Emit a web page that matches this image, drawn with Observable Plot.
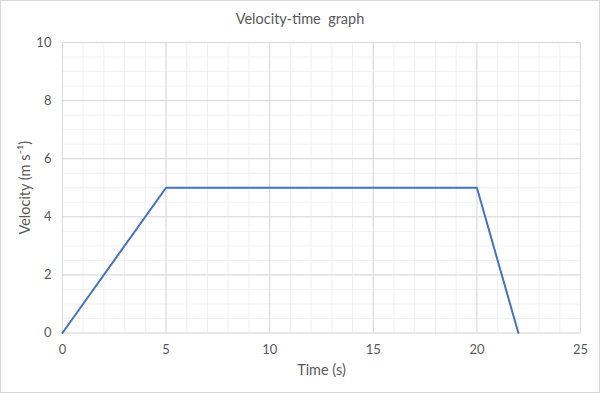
<!DOCTYPE html>
<html>
<head>
<meta charset="utf-8">
<script src="https://cdn.jsdelivr.net/npm/d3@7"></script>
<script src="https://cdn.jsdelivr.net/npm/@observablehq/plot@0.6"></script>
<style>
  html, body { margin: 0; padding: 0; background: #fff; }
  #wrap { position: relative; width: 600px; height: 393px; box-sizing: border-box; border: 1px solid #d9d9d9; overflow: hidden; font-family: Lato, "Open Sans", sans-serif; }
  #title { position: absolute; left: 0; top: 0; width: 100%; height: 30px; line-height: 36px; text-align: center; font-size: 14.5px; color: #595959; }
  #chart { position: absolute; left: -1px; top: 29px; }
</style>
</head>
<body>
<div id="wrap">
  <div id="title">Velocity-time&nbsp; graph</div>
  <div id="chart"></div>
</div>
<script>
const time = [0, 5, 20, 22];
const velocity = [0, 5, 5, 0];
const xTicks = [0, 5, 10, 15, 20, 25];
const yTicks = [0, 2, 4, 6, 8, 10];
const xMinor = d3.range(0, 26, 1);
const yMinor = d3.range(0, 10.001, 0.5);
const xLabel = "Time (s)";
const yLabel = "Velocity (m s\u207B\u00B9)";

const data = time.map((t, i) => ({t, v: velocity[i]}));

const chart = Plot.plot({
  width: 600,
  height: 364,
  marginTop: 12,
  marginBottom: 61,
  marginLeft: 62,
  marginRight: 19,
  style: {fontFamily: "Lato, 'Open Sans', sans-serif", fontSize: "12.5px", color: "#595959", background: "transparent"},
  x: {domain: [0, 25]},
  y: {domain: [0, 10]},
  marks: [
    Plot.gridX(xMinor, {stroke: "#f0f0f0", strokeOpacity: 1}),
    Plot.gridY(yMinor, {stroke: "#f0f0f0", strokeOpacity: 1}),
    Plot.gridX(xTicks, {stroke: "#d9d9d9", strokeOpacity: 1}),
    Plot.gridY(yTicks, {stroke: "#d9d9d9", strokeOpacity: 1}),
    Plot.axisX(xTicks, {tickSize: 0, tickPadding: 12, fill: "#595959", label: null, fontSize: 13}),
    Plot.axisY(yTicks, {tickSize: 0, tickPadding: 11, fill: "#595959", label: null, fontSize: 13}),
    Plot.text([xLabel], {frameAnchor: "bottom", textAnchor: "middle", dy: 42, fontSize: 14.5, fill: "#595959"}),
    Plot.text([yLabel], {frameAnchor: "left", textAnchor: "middle", rotate: -90, dx: -37, fontSize: 14.5, fill: "#595959"}),
    Plot.line(data, {x: "t", y: "v", stroke: "#4472c4", strokeWidth: 2})
  ]
});
document.getElementById("chart").appendChild(chart);
</script>
</body>
</html>
